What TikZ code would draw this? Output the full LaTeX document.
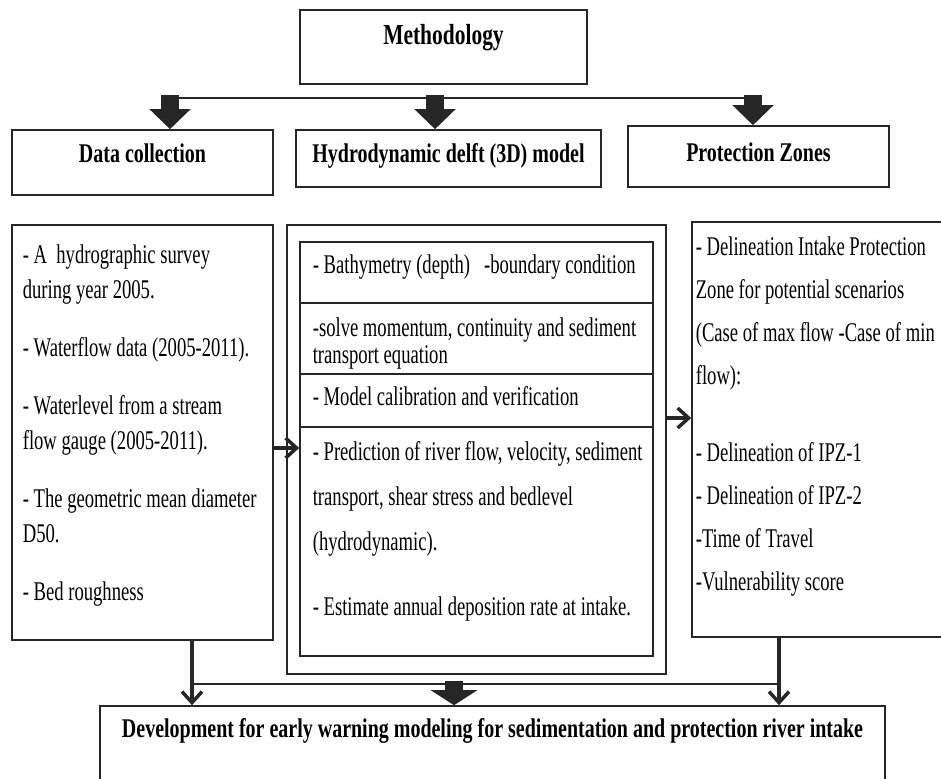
\documentclass[tikz,border=0pt]{standalone}
\usepackage{fontspec}
\setmainfont{Liberation Serif}[FakeStretch=0.69,BoldFeatures={FakeStretch=0.74}]
\usetikzlibrary{arrows.meta}

\begin{document}
\begin{tikzpicture}[x=1pt,y=-1pt,line width=1.6pt,draw=black!85,font=\fontsize{27}{35}\selectfont]
  \tikzstyle{module}=[rectangle,draw,inner sep=0pt]
  \tikzstyle{head}=[module,text height=20pt,font=\fontsize{27}{35}\selectfont\bfseries]
  \tikzstyle{listtext}=[anchor=base west,align=left,inner sep=0pt]
  \tikzstyle{block}=[line width=18pt,shorten <=-3pt,-{Triangle[length=20pt,width=40pt]}]
  \tikzstyle{flow}=[line width=3.5pt,-{Straight Barb[length=11pt,width=20pt]}]

  \useasboundingbox (0,0) rectangle (941,778);

  % headings
  \node[head, minimum width=287pt, minimum height=74pt, text depth=24pt, font=\fontsize{29}{35}\selectfont\bfseries] (method) at (443.5,47) {Methodology};
  \node[head, minimum width=261pt, minimum height=65pt, text depth=19pt] (data) at (142.5,162.5) {Data collection};
  \node[head, minimum width=305pt, minimum height=57pt, text depth=11pt] (hydro) at (448.5,158.5) {Hydrodynamic delft (3D) model};
  \node[head, minimum width=261pt, minimum height=61pt, text depth=11pt] (zones) at (758.5,156.5) {Protection Zones};

  \coordinate (bus-l) at (170,98);
  \coordinate (bus-m) at (435,98);
  \coordinate (bus-r) at (753,98);
  \draw (bus-l) -- (bus-r);
  \draw[block] (bus-l) -- (bus-l |- data.north);
  \draw[block] (bus-m) -- (bus-m |- hydro.north);
  \draw[block] (bus-r) -- (bus-r |- zones.north);

  % data collection list (anchored at its last line)
  \node[module, minimum width=261pt, minimum height=415pt] (left) at (142.5,432.5) {};
  \node[listtext] (left-txt) at (22,600) {- A\ \ hydrographic survey\\ during year 2005.\\[23pt]
    - Waterflow data (2005-2011).\\[23pt]
    - Waterlevel from a stream\\ flow gauge (2005-2011).\\[23pt]
    - The geometric mean diameter\\ D50.\\[23pt]
    - Bed roughness};

  % delft model steps
  \node[module, line width=1.2pt, minimum width=379pt, minimum height=449pt] (model) at (476.5,449.5) {};
  \node[module, minimum width=353pt, minimum height=61pt] (bath) at (476.5,272.5) {};
  \node[module, minimum width=353pt, minimum height=71pt] (solve) at (476.5,338.5) {};
  \node[module, minimum width=353pt, minimum height=53pt] (calib) at (476.5,400.5) {};
  \node[module, minimum width=353pt, minimum height=229pt] (pred) at (476.5,541.5) {};
  \node[listtext] (bath-txt) at (312,273) {- Bathymetry (depth)\ \ \ -boundary condition};
  \node[listtext, font=\fontsize{27}{27}\selectfont] (solve-txt) at (312,363) {-solve momentum, continuity and sediment\\ transport equation};
  \node[listtext] (calib-txt) at (312,405) {- Model calibration and verification};
  \node[listtext, font=\fontsize{27}{45}\selectfont] (pred-txt) at (312,615) {- Prediction of river flow, velocity, sediment\\
    transport, shear stress and bedlevel\\ (hydrodynamic).\\[20pt]
    - Estimate annual deposition rate at intake.};

  % protection zones list
  \node[module, minimum width=254pt, minimum height=415pt] (right) at (819,429.5) {};
  \node[listtext, font=\fontsize{27}{43}\selectfont] (right-txt) at (695,590) {- Delineation Intake Protection\\
    Zone for potential scenarios\\ (Case of max flow -Case of min\\ flow):\\[34pt]
    - Delineation of IPZ-1\\ - Delineation of IPZ-2\\ -Time of Travel\\ -Vulnerability score};

  \coordinate (left-out) at (273,448);
  \coordinate (model-out) at (666,418);
  \draw[flow] (left-out) -- (left-out -| pred.west);
  \draw[flow] (model-out) -- (model-out -| right.west);

  % result
  \node[head, minimum width=785pt, minimum height=86pt, text depth=44pt] (warn) at (492.5,749) {Development for early warning modeling for sedimentation and protection river intake};

  \coordinate (left-down) at (192,640);
  \coordinate (right-down) at (779,637);
  \coordinate (bus-b) at (454,684);
  \draw (left-down |- bus-b) -- (right-down |- bus-b);
  \draw[flow] (left-down) -- (left-down |- warn.north);
  \draw[flow] (right-down) -- (right-down |- warn.north);
  \draw[block, -{Triangle[length=15pt,width=46pt]}] (bus-b) -- (bus-b |- warn.north);
\end{tikzpicture}
\end{document}
